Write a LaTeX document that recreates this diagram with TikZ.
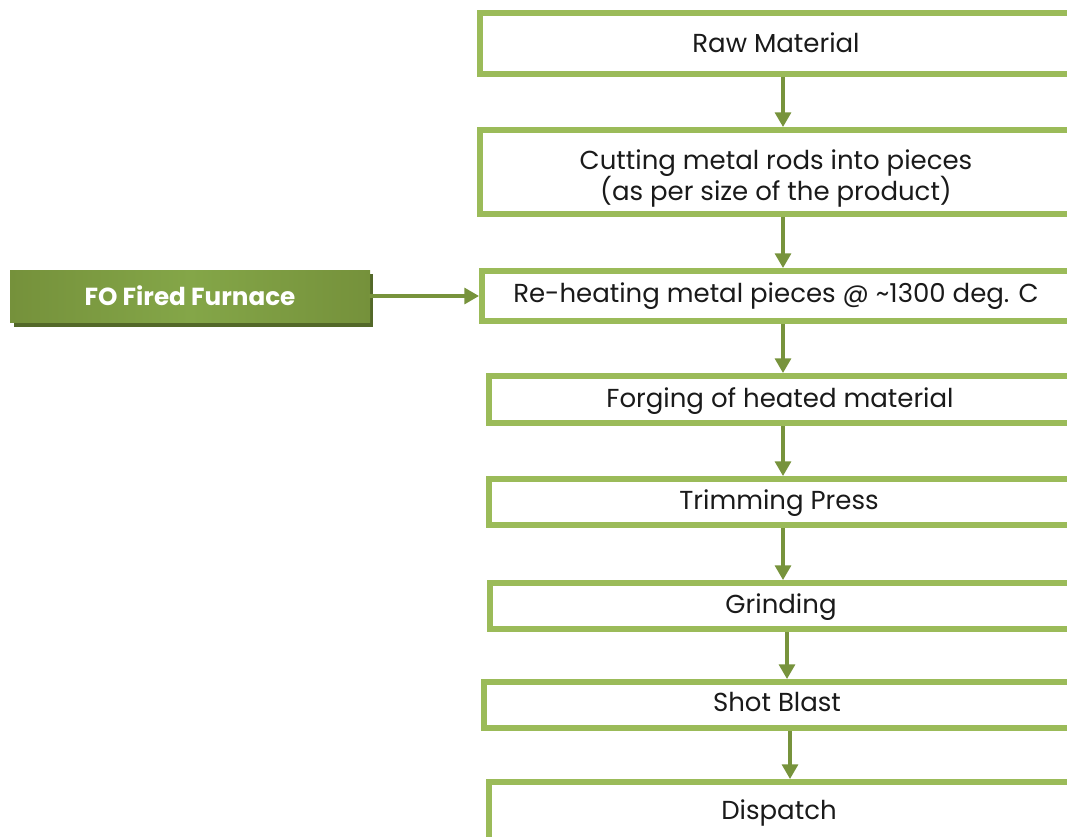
\documentclass[tikz,border=0pt]{standalone}
\usepackage{fontspec}
\setmainfont{Poppins}
\usetikzlibrary{arrows.meta,fit,calc}
\definecolor{boxgreen}{HTML}{9BBB59}
\definecolor{arrgreen}{HTML}{77933C}
\definecolor{darkgreen}{HTML}{75913B}
\definecolor{lightgreen}{HTML}{84A648}
\definecolor{shadowgreen}{HTML}{536829}
\definecolor{txt}{HTML}{1A1A1A}
\tikzset{
  stepbox/.style={draw=boxgreen, line width=4.5pt, fill=white, inner sep=0pt},
  steptext/.style={text=txt, font=\fontsize{19.5}{23}\selectfont, align=center, anchor=base, inner sep=0pt},
  arr/.style={draw=arrgreen, line width=2.4pt, -{Triangle[width=12pt,length=11pt]}},
}
\begin{document}
\begin{tikzpicture}[x=0.75pt,y=-0.75pt]
\useasboundingbox (0,0) rectangle (1067,836);
\clip (0,0) rectangle (1067,836);
% process boxes (fit corners at border centre lines)
\node[stepbox, fit={(480,13) (1071,74)}] (raw) {};
\node[stepbox, fit={(480,130) (1071,214)}] (cut) {};
\node[stepbox, fit={(482,271) (1071,321)}] (heat) {};
\node[stepbox, fit={(489,376) (1071,423)}] (forge) {};
\node[stepbox, fit={(489,479) (1071,525)}] (trim) {};
\node[stepbox, fit={(490,583) (1071,629)}] (grind) {};
\node[stepbox, fit={(484,682) (1071,728)}] (shot) {};
\node[stepbox, fit={(489,782) (1071,860)}] (disp) {};
% texts
\node[steptext] (rawt) at (776,52) {Raw Material};
\node[steptext] (cutt1) at (776,169) {Cutting metal rods into pieces};
\node[steptext] (cutt2) at (776,200) {(as per size of the product)};
\node[steptext] (heatt) at (776,302) {Re-heating metal pieces @ \textasciitilde1300 deg. C};
\node[steptext] (forget) at (780,407) {Forging of heated material};
\node[steptext] (trimt) at (779,509) {Trimming Press};
\node[steptext] (grindt) at (781,613) {Grinding};
\node[steptext] (shott) at (777,711) {Shot Blast};
\node[steptext] (dispt) at (779,819) {Dispatch};
% furnace box with shadow
\fill[shadowgreen] (14,274) rectangle (373,327);
\shade[left color=darkgreen, right color=darkgreen, middle color=lightgreen] (10,270) rectangle (370,322);
\node[inner sep=0pt, fit={(10,270) (370,322)}] (furn) {};
\node[text=white, font=\bfseries\fontsize{18.5}{22}\selectfont, anchor=base, inner sep=0pt] (furntxt) at (190,305) {FO Fired Furnace};
% axes for arrows
\coordinate (a1) at (783,0);
\coordinate (a2) at (787,0);
\coordinate (a3) at (790,0);
\coordinate (fy) at (0,296);
\draw[arr] (raw.south -| a1) -- (cut.north -| a1);
\draw[arr] (cut.south -| a1) -- (heat.north -| a1);
\draw[arr] (heat.south -| a1) -- (forge.north -| a1);
\draw[arr] (forge.south -| a1) -- (trim.north -| a1);
\draw[arr] (trim.south -| a1) -- (grind.north -| a1);
\draw[arr] (grind.south -| a2) -- (shot.north -| a2);
\draw[arr] (shot.south -| a3) -- (disp.north -| a3);
\draw[arr, shorten <=-1pt] (furn.east |- fy) -- (heat.west |- fy);
\end{tikzpicture}
\end{document}
